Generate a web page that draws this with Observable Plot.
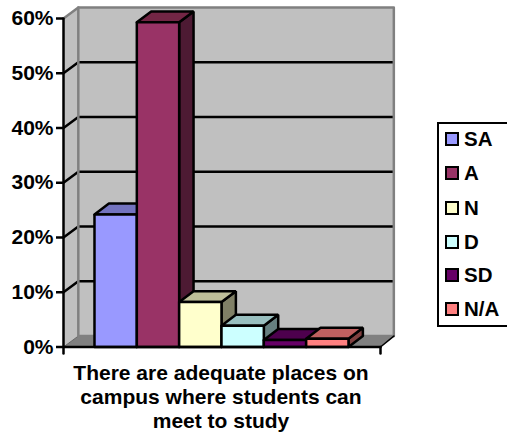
<!DOCTYPE html>
<html>
<head>
<meta charset="utf-8">
<script src="https://cdn.jsdelivr.net/npm/d3@7"></script>
<script src="https://cdn.jsdelivr.net/npm/@observablehq/plot@0.6"></script>
<style>
html,body{margin:0;padding:0;background:#fff;}
body{width:507px;height:440px;position:relative;overflow:hidden;font-family:"Liberation Sans",Arial,sans-serif;font-weight:bold;color:#000;}
#caption{position:absolute;left:21px;top:361px;width:400px;text-align:center;font-size:21px;line-height:24px;}
#legend{position:absolute;left:437px;top:122px;width:76px;height:205px;border:2px solid #000;box-sizing:border-box;}
.row{position:absolute;left:6px;height:20px;line-height:20px;font-size:20.5px;white-space:nowrap;}
.sw{position:absolute;left:0;top:3px;width:14px;height:14px;border:2px solid #000;box-sizing:border-box;}
.lb{position:absolute;left:19px;top:0;}
</style>
</head>
<body>
<div id="chart"></div>
<div id="caption"></div>
<div id="legend"></div>
<script>
const categories = ["SA", "A", "N", "D", "SD", "N/A"];
const values = [24.2, 59.3, 8.2, 3.9, 1.3, 1.5];
const barColors = ["#9999FF", "#993366", "#FFFFCC", "#CCFFFF", "#660066", "#FF8080"];
const topColors = ["#7373BF", "#732645", "#BFBF99", "#99BFBF", "#4D004D", "#BF6060"];
const sideColors = ["#4D4D80", "#4D1A33", "#808066", "#668080", "#330033", "#804040"];
const yTicks = [0, 10, 20, 30, 40, 50, 60];
const captionLines = ["There are adequate places on", "campus where students can", "meet to study"];

const xMin = -0.732, xMax = 6.756, depthLeft = 0.35, depthRight = 0.315, depthY = 2;
const barDepthX = 0.34;
const backLeft = xMin + depthLeft, backRight = xMax + depthRight;

// Bar faces as closed polygons in data units
const faces = [];
categories.forEach((c, i) => {
  const v = values[i];
  const poly = (name, fill, pts) => pts.concat([pts[0]]).forEach(p => faces.push({z: c + name, fill, x: p[0], y: p[1]}));
  poly("side", sideColors[i], [[i+1, 0], [i+1+barDepthX, depthY], [i+1+barDepthX, v+depthY], [i+1, v]]);
  poly("top", topColors[i], [[i, v], [i+barDepthX, v+depthY], [i+1+barDepthX, v+depthY], [i+1, v]]);
  poly("front", barColors[i], [[i, 0], [i+1, 0], [i+1, v], [i, v]]);
});

const wallPts = [[xMin, 0], [backLeft, depthY], [backLeft, 60+depthY], [xMin, 60]].map(([x,y]) => ({x,y}));
const backPts = [[backLeft, depthY], [backRight, depthY], [backRight, 60+depthY], [backLeft, 60+depthY]].map(([x,y]) => ({x,y}));
const floorPts = [[xMin, 0], [xMax, 0], [backRight, depthY], [backLeft, depthY]].map(([x,y]) => ({x,y}));
const closed = a => a.concat([a[0]]);
const grid = yTicks.filter(t => t > 0 && t < 60);

const chart = Plot.plot({
  width: 507,
  height: 360,
  marginLeft: 63,
  marginRight: 127,
  marginTop: 18,
  marginBottom: 13.5,
  style: {background: "transparent", overflow: "visible"},
  x: {type: "linear", domain: [xMin, xMax], axis: null},
  y: {type: "linear", domain: [0, 60], axis: null},
  color: {type: "identity"},
  marks: [
    Plot.line(closed(wallPts), {x: "x", y: "y", fill: "#C0C0C0", stroke: "none"}),
    Plot.line(closed(backPts), {x: "x", y: "y", fill: "#C0C0C0", stroke: "none"}),
    Plot.line(closed(floorPts), {x: "x", y: "y", fill: "#808080", stroke: "none"}),
    // gridlines with diagonal shoulders
    Plot.line(grid.flatMap(t => [{t, x: xMin, y: t}, {t, x: backLeft, y: t+depthY}, {t, x: backRight, y: t+depthY}]), {x: "x", y: "y", z: "t", stroke: "#000", strokeWidth: 2.5}),
    // grey wall edges
    Plot.line([{x: xMin, y: 0}, {x: backLeft, y: depthY}], {x: "x", y: "y", stroke: "#666", strokeWidth: 1}),
    Plot.line([{x: xMin, y: 60}, {x: backLeft, y: 60+depthY}, {x: backRight, y: 60+depthY}, {x: backRight, y: depthY}], {x: "x", y: "y", stroke: "#808080", strokeWidth: 2.5}),
    Plot.line([{x: backLeft, y: 60+depthY}, {x: backLeft, y: depthY}, {x: backRight, y: depthY}], {x: "x", y: "y", stroke: "#808080", strokeWidth: 2.5}),
    Plot.line([{x: xMax, y: 0}, {x: backRight, y: depthY}], {x: "x", y: "y", stroke: "#000", strokeWidth: 1.5}),
    // bars
    Plot.line(faces, {x: "x", y: "y", z: "z", fill: "fill", stroke: "#000", strokeWidth: 2.5, strokeLinejoin: "miter"}),
    // axes
    Plot.line([{x: xMin, y: -1.2}, {x: xMin, y: 60}], {x: "x", y: "y", stroke: "#000", strokeWidth: 2.5}),
    Plot.line([{x: xMin, y: 0}, {x: xMax, y: 0}], {x: "x", y: "y", stroke: "#000", strokeWidth: 2.5}),
    Plot.line([{x: xMax, y: 0}, {x: xMax, y: -1.2}], {x: "x", y: "y", stroke: "#000", strokeWidth: 2.5}),
    Plot.axisY(yTicks, {
      anchor: "left",
      tickSize: 7,
      tickPadding: 3,
      tickFormat: d => d + "%",
      stroke: "#000",
      strokeWidth: 2.5,
      strokeOpacity: 1,
      fill: "#000",
      fontSize: 21,
      fontWeight: "bold",
      fontFamily: "Liberation Sans, Arial, sans-serif",
      label: null
    })
  ]
});
document.getElementById("chart").appendChild(chart);

document.getElementById("caption").innerHTML = captionLines.join("<br>");

const legend = document.getElementById("legend");
const rowTops = [5, 39, 74, 108, 141, 175];
categories.forEach((c, i) => {
  const row = document.createElement("div");
  row.className = "row";
  row.style.top = rowTops[i] + "px";
  row.innerHTML = `<span class="sw" style="background:${barColors[i]}"></span><span class="lb">${c}</span>`;
  legend.appendChild(row);
});
</script>
</body>
</html>
